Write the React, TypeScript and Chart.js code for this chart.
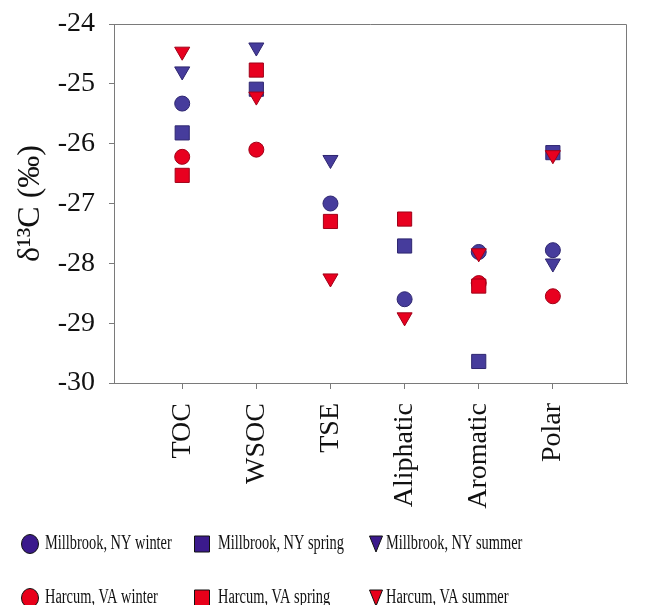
import React, { useEffect, useRef } from 'react';
import { Chart, registerables } from 'chart.js';

Chart.register(...registerables);

// ---- data ----
const categories = ['TOC', 'WSOC', 'TSE', 'Aliphatic', 'Aromatic', 'Polar'];
const yTickValues = [-30, -29, -28, -27, -26, -25, -24];
const seriesLabels = [
  'Millbrook, NY winter',
  'Millbrook, NY spring',
  'Millbrook, NY summer',
  'Harcum, VA winter',
  'Harcum, VA spring',
  'Harcum, VA summer',
];
const nyWinter = [-25.33, null, -27.0, -28.6, -27.81, -27.78];
const nySpring = [-25.82, -25.09, null, -27.71, -29.64, -26.15];
const nySummer = [-24.79, -24.39, -26.27, null, null, -28.0];
const vaWinter = [-26.22, -26.1, null, null, -28.33, -28.55];
const vaSpring = [-26.53, -24.77, -27.3, -27.26, -28.38, null];
const vaSummer = [-24.46, -25.21, -28.25, -28.9, -27.83, -26.19];

// ---- styles ----
const BLUE = '#463c9c';
const BLUE_BORDER = '#2e2670';
const RED = '#e8001f';
const RED_BORDER = '#a00018';
const LEG_BLUE = '#3b1a8c';
const LEG_RED = '#e8001a';
const FONT = '"Liberation Serif", "Times New Roman", serif';

type Shape = 'circle' | 'rect' | 'triangle';
const seriesStyles: { color: string; border: string; legColor: string; shape: Shape; radius: number; order: number }[] = [
  { color: BLUE, border: BLUE_BORDER, legColor: LEG_BLUE, shape: 'circle', radius: 7.5, order: 5 },
  { color: BLUE, border: BLUE_BORDER, legColor: LEG_BLUE, shape: 'rect', radius: 10, order: 4 },
  { color: BLUE, border: BLUE_BORDER, legColor: LEG_BLUE, shape: 'triangle', radius: 8.7, order: 3 },
  { color: RED, border: RED_BORDER, legColor: LEG_RED, shape: 'circle', radius: 7.5, order: 2 },
  { color: RED, border: RED_BORDER, legColor: LEG_RED, shape: 'rect', radius: 10, order: 1 },
  { color: RED, border: RED_BORDER, legColor: LEG_RED, shape: 'triangle', radius: 8.7, order: 0 },
];
const allSeries = [nyWinter, nySpring, nySummer, vaWinter, vaSpring, vaSummer];

const toPoints = (vals: (number | null)[]) =>
  vals
    .map((v, i) => (v === null ? null : { x: i + 1, y: v }))
    .filter((p) => p !== null) as { x: number; y: number }[];

const framePlugin = {
  id: 'frame',
  beforeDatasetsDraw(chart: any) {
    const { ctx, chartArea } = chart;
    ctx.save();
    ctx.strokeStyle = '#7a7a7a';
    ctx.lineWidth = 1;
    ctx.beginPath();
    ctx.moveTo(chartArea.left, chartArea.top + 0.5);
    ctx.lineTo(chartArea.right - 0.5, chartArea.top + 0.5);
    ctx.lineTo(chartArea.right - 0.5, chartArea.bottom);
    ctx.stroke();
    ctx.restore();
  },
};

const gridLegendPlugin = {
  id: 'gridLegend',
  afterDraw(chart: any) {
    const ctx: CanvasRenderingContext2D = chart.ctx;
    const colMarker = [30, 202, 376];
    const colText = [45, 218, 386];
    const rows = [544, 598];
    chart.data.datasets.forEach((ds: any, i: number) => {
      const st = seriesStyles[i];
      const r = Math.floor(i / 3);
      const c = i % 3;
      const mx = colMarker[c];
      const my = rows[r];
      ctx.save();
      ctx.fillStyle = st.legColor;
      ctx.strokeStyle = '#111';
      ctx.lineWidth = 1;
      ctx.beginPath();
      if (st.shape === 'circle') {
        ctx.ellipse(mx, my, 8.5, 9.5, 0, 0, Math.PI * 2);
      } else if (st.shape === 'rect') {
        ctx.rect(mx - 7.5, my - 8, 15, 16);
      } else {
        ctx.moveTo(mx - 6.5, my - 8);
        ctx.lineTo(mx + 6.5, my - 8);
        ctx.lineTo(mx, my + 8);
        ctx.closePath();
      }
      ctx.fill();
      ctx.stroke();
      ctx.restore();

      ctx.save();
      ctx.translate(colText[c], my);
      ctx.scale(0.72, 1);
      ctx.font = `20px ${FONT}`;
      ctx.fillStyle = '#111';
      ctx.textBaseline = 'middle';
      ctx.textAlign = 'left';
      ctx.fillText(ds.label, 0, 0);
      ctx.restore();
    });
  },
};

export default function App() {
  const ref = useRef<HTMLCanvasElement | null>(null);

  useEffect(() => {
    if (!ref.current) return;
    const datasets = allSeries.map((vals, i) => {
      const st = seriesStyles[i];
      return {
        label: seriesLabels[i],
        data: toPoints(vals),
        showLine: false,
        pointStyle: st.shape,
        pointRadius: st.radius,
        pointRotation: st.shape === 'triangle' ? 180 : 0,
        pointBackgroundColor: st.color,
        pointBorderColor: st.border,
        pointBorderWidth: 1,
        backgroundColor: st.color,
        borderColor: st.border,
        order: st.order,
      };
    });

    const chart = new Chart(ref.current, {
      type: 'scatter',
      data: { datasets },
      plugins: [framePlugin, gridLegendPlugin],
      options: {
        animation: false,
        responsive: true,
        maintainAspectRatio: false,
        layout: { autoPadding: false, padding: { left: 0, right: 22, top: 24, bottom: 0 } },
        plugins: {
          legend: { display: false },
          tooltip: { enabled: false },
        },
        scales: {
          x: {
            type: 'linear',
            min: 0.08,
            max: 7,
            afterBuildTicks: (axis: any) => {
              axis.ticks = categories.map((_, i) => ({ value: i + 1 }));
            },
            afterFit: (axis: any) => {
              axis.height = 222;
              axis.paddingLeft = 0;
              axis.paddingRight = 0;
            },
            grid: {
              display: true,
              drawOnChartArea: false,
              drawTicks: true,
              tickLength: 6,
              color: '#7a7a7a',
            },
            border: { display: true, color: '#7a7a7a', width: 1 },
            ticks: {
              autoSkip: false,
              minRotation: 90,
              maxRotation: 90,
              padding: 14,
              color: '#111',
              font: { family: FONT, size: 28 },
              callback: (v: any) => categories[Number(v) - 1] ?? '',
            },
          },
          y: {
            type: 'linear',
            min: -30,
            max: -24,
            afterBuildTicks: (axis: any) => {
              axis.ticks = yTickValues.map((v) => ({ value: v }));
            },
            afterFit: (axis: any) => {
              axis.width = 114;
              axis.paddingTop = 0;
              axis.paddingBottom = 0;
            },
            grid: {
              display: true,
              drawOnChartArea: false,
              drawTicks: true,
              tickLength: 5,
              color: '#7a7a7a',
            },
            border: { display: true, color: '#7a7a7a', width: 1 },
            ticks: {
              padding: 14,
              color: '#111',
              font: { family: FONT, size: 28 },
              callback: (v: any) => String(v),
            },
            title: {
              display: true,
              text: 'δ¹³C (‰)',
              color: '#111',
              font: { family: FONT, size: 32 },
              padding: { top: 11, bottom: 0 },
            },
          },
        },
      },
    });
    return () => chart.destroy();
  }, []);

  return (
    <div style={{ position: 'absolute', left: 0, top: 0, width: 649, height: 605 }}>
      <canvas ref={ref} />
    </div>
  );
}
